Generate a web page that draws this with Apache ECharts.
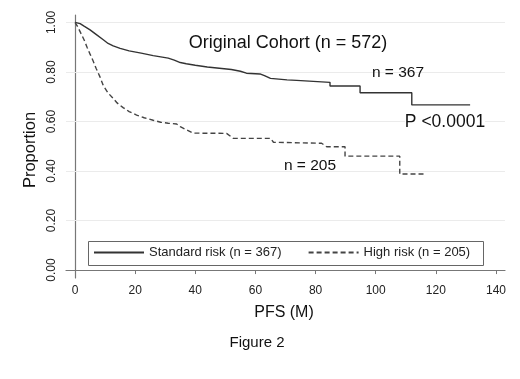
<!DOCTYPE html>
<html>
<head>
<meta charset="utf-8">
<script src="https://cdn.jsdelivr.net/npm/echarts@6/dist/echarts.min.js"></script>
<style>html,body{margin:0;padding:0;background:#fff;}#c{width:520px;height:379px;}</style>
</head>
<body>
<div id="c"></div>
<script>
// Kaplan-Meier estimates: [months, proportion]
const standardRisk = [[0,1],[1.7,0.995],[3,0.985],[5,0.97],[7,0.952],[9.4,0.93],[11,0.915],[12.7,0.905],[15,0.895],[18,0.885],[22,0.876],[26,0.866],[29,0.86],[31,0.856],[33,0.848],[35,0.838],[37,0.833],[40,0.827],[44,0.82],[48,0.815],[52,0.81],[55,0.803],[57,0.795],[61.5,0.792],[63,0.785],[65,0.774],[70.5,0.768],[73.7,0.766],[73.7,0.758],[84.8,0.758],[84.8,0.743],[94.8,0.743],[94.8,0.716],[112,0.716],[112,0.667],[131.4,0.667]];
const highRisk = [[0,1],[1,0.98],[2,0.955],[3,0.93],[4,0.9],[5,0.872],[6,0.845],[7,0.815],[8.3,0.78],[9.4,0.745],[11,0.715],[12.7,0.693],[14,0.675],[16,0.656],[18,0.64],[20.5,0.626],[23,0.615],[26,0.605],[28.5,0.597],[31,0.593],[33.8,0.59],[35,0.579],[37,0.567],[39.3,0.553],[50.4,0.552],[52.6,0.532],[65,0.532],[66,0.516],[82,0.512],[83.7,0.498],[89.8,0.498],[89.8,0.46],[108,0.46],[108,0.388],[116.4,0.388]];
const seriesNames = ['Standard risk (n = 367)', 'High risk (n = 205)'];
const xTicks = [0,20,40,60,80,100,120,140];
const yTicks = [0,0.2,0.4,0.6,0.8,1.0];
const gridValues = [0.2,0.4,0.6,0.8,1.0];

const chart = echarts.init(document.getElementById('c'), null, {renderer:'canvas'});
const font = 'Liberation Sans, Arial, Helvetica, sans-serif';
chart.setOption({
  animation:false,
  backgroundColor:'#fff',
  grid:{left:66, right:15, top:15, bottom:101},
  xAxis:{type:'value', min:-3, max:143,
    axisLine:{show:true, lineStyle:{color:'#777', width:1.2}},
    axisTick:{show:true, length:4, customValues:xTicks, lineStyle:{color:'#777'}},
    axisLabel:{customValues:xTicks, margin:7, color:'#222', fontSize:12, fontFamily:font},
    splitLine:{show:false}},
  yAxis:{type:'value', min:-0.032, max:1.03,
    axisLine:{show:true, lineStyle:{color:'#777', width:1.2}},
    axisTick:{show:true, length:4, customValues:yTicks, lineStyle:{color:'#777'}},
    axisLabel:{customValues:yTicks, rotate:90, margin:8, color:'#222', fontSize:12, fontFamily:font,
      formatter:v=>v.toFixed(2)},
    splitLine:{show:false}},
  legend:{left:88, top:241, itemWidth:50, itemHeight:12, itemGap:26,
    itemStyle:{opacity:0},
    data:seriesNames, textStyle:{fontSize:13, color:'#222', fontFamily:font}},
  series:[
    {name:seriesNames[0], type:'line', data:standardRisk, symbol:'none',
      lineStyle:{color:'#333', width:1.4, type:'solid'}, itemStyle:{color:'#333'},
      markLine:{silent:true, symbol:'none', label:{show:false}, lineStyle:{color:'#ebebeb', width:1, type:'solid'},
        data:gridValues.map(v=>({yAxis:v})), z:1}, z:3},
    {name:seriesNames[1], type:'line', data:highRisk, symbol:'none',
      lineStyle:{color:'#444', width:1.4, type:[5,3]}, itemStyle:{color:'#444'}, z:3}
  ],
  graphic:[
    {type:'rect', shape:{x:88.5, y:241.5, width:395, height:24}, style:{fill:'none', stroke:'#666', lineWidth:1}, z:1},
    {type:'text', z:100, x:288, y:43, style:{text:'Original Cohort (n = 572)', font:'18px '+font, fill:'#111', textAlign:'center', textVerticalAlign:'middle'}},
    {type:'text', z:100, x:398, y:72.5, style:{text:'n = 367', font:'15.5px '+font, fill:'#111', textAlign:'center', textVerticalAlign:'middle'}},
    {type:'text', z:100, x:445, y:122.5, style:{text:'P <0.0001', font:'17.5px '+font, fill:'#111', textAlign:'center', textVerticalAlign:'middle', backgroundColor:'#fff'}},
    {type:'text', z:100, x:310, y:166, style:{text:'n = 205', font:'15.5px '+font, fill:'#111', textAlign:'center', textVerticalAlign:'middle'}},
    {type:'text', z:100, x:284, y:313, style:{text:'PFS (M)', font:'16px '+font, fill:'#111', textAlign:'center', textVerticalAlign:'middle'}},
    {type:'text', z:100, x:257, y:343, style:{text:'Figure 2', font:'15px '+font, fill:'#111', textAlign:'center', textVerticalAlign:'middle'}},
    {type:'text', z:100, x:30, y:150, rotation:Math.PI/2, style:{text:'Proportion', font:'16.5px '+font, fill:'#111', textAlign:'center', textVerticalAlign:'middle'}}
  ]
});
</script>
</body>
</html>
